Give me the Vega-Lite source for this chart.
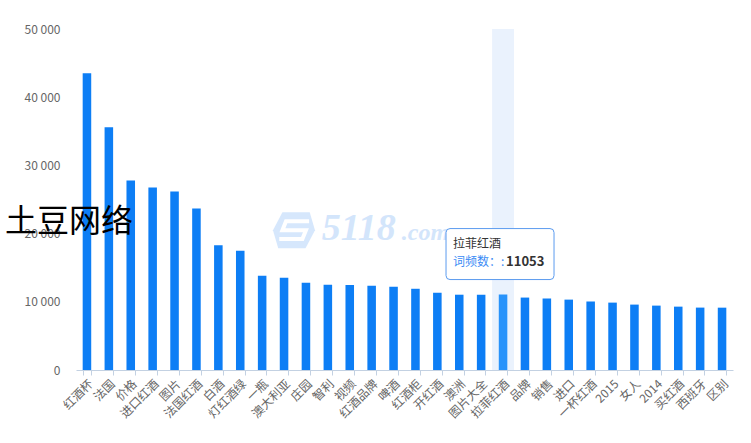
{
  "$schema": "https://vega.github.io/schema/vega-lite/v6.json",
  "width": 657,
  "height": 341,
  "autosize": "none",
  "padding": {"left": 76, "top": 29, "right": 18, "bottom": 73},
  "config": {"view": {"stroke": null}, "font": "Noto Sans CJK SC"},
  "data": {
    "values": [
      {"word": "红酒杯", "count": 43530},
      {"word": "法国", "count": 35590},
      {"word": "价格", "count": 27790},
      {"word": "进口红酒", "count": 26760},
      {"word": "图片", "count": 26180},
      {"word": "法国红酒", "count": 23680},
      {"word": "白酒", "count": 18280},
      {"word": "灯红酒绿", "count": 17500},
      {"word": "一瓶", "count": 13820},
      {"word": "澳大利亚", "count": 13530},
      {"word": "庄园", "count": 12790},
      {"word": "智利", "count": 12500},
      {"word": "视频", "count": 12480},
      {"word": "红酒品牌", "count": 12350},
      {"word": "啤酒", "count": 12200},
      {"word": "红酒柜", "count": 11910},
      {"word": "开红酒", "count": 11320},
      {"word": "澳洲", "count": 11040},
      {"word": "图片大全", "count": 11030},
      {"word": "拉菲红酒", "count": 11053},
      {"word": "品牌", "count": 10620},
      {"word": "销售", "count": 10470},
      {"word": "进口", "count": 10320},
      {"word": "一杯红酒", "count": 10030},
      {"word": "2015", "count": 9880},
      {"word": "女人", "count": 9590},
      {"word": "2014", "count": 9440},
      {"word": "买红酒", "count": 9290},
      {"word": "西班牙", "count": 9150},
      {"word": "区别", "count": 9140}
    ]
  },
  "layer": [
    {
      "mark": {"type": "bar"},
      "encoding": {
        "x": {"field": "word", "type": "nominal", "sort": null, "scale": {"paddingInner": 0, "paddingOuter": 0}, "axis": null},
        "y": {"datum": 50000, "type": "quantitative"},
        "y2": {"datum": 0},
        "color": {"condition": {"test": "datum.word === '拉菲红酒'", "value": "rgba(140,185,245,0.18)"}, "value": "rgba(0,0,0,0)"}
      }
    },
    {
      "layer": [
        {
          "mark": {"type": "bar"},
          "encoding": {
            "x": {
              "field": "word", "type": "nominal", "sort": null,
              "scale": {"paddingInner": 0.61, "paddingOuter": 0.305},
              "axis": {
                "title": null, "labelAngle": -45, "labelFontSize": 12, "labelColor": "#666666",
                "labelPadding": 3, "domainColor": "#c3d1e2", "tickColor": "#c3d1e2", "tickSize": 5,
                "tickBand": "extent", "labelOverlap": false, "grid": false, "labelFont": "Noto Sans CJK SC"
              }
            },
            "y": {
              "field": "count", "type": "quantitative",
              "scale": {"domain": [0, 50000], "nice": false},
              "axis": {
                "title": null, "values": [0, 10000, 20000, 30000, 40000, 50000],
                "labelExpr": "replace(format(datum.value, ','), ',', ' ')",
                "domain": false, "ticks": false, "gridColor": "#e0e0e0", "labelColor": "#666666",
                "labelFontSize": 12, "labelPadding": 16, "labelFont": "Noto Sans CJK SC"
              }
            },
            "color": {"condition": {"test": "datum.word === '拉菲红酒'", "value": "#2893fb"}, "value": "#0d7ef5"}
          }
        },
        {
          "data": {"values": [{"t": "logo"}]},
          "mark": {"type": "point", "filled": true, "shape": "M-1.12,-0.857 L0.18,-0.857 L0.43,0 L-0.02,0.857 L-1.32,0.857 L-1.57,0 Z", "size": 1764, "color": "#d6e7fc", "opacity": 1},
          "encoding": {"x": {"datum": "庄园"}, "y": {"datum": 20500}}
        },
        {
          "data": {"values": [{"t": "logo-s"}]},
          "mark": {"type": "point", "filled": false, "shape": "M0.15,-0.42 L-0.95,-0.42 L-1.12,0 L0,0 L-0.17,0.42 L-1.27,0.42", "size": 1764, "stroke": "#ffffff", "strokeWidth": 4, "fillOpacity": 0, "opacity": 1},
          "encoding": {"x": {"datum": "庄园"}, "y": {"datum": 20500}}
        },
        {
          "data": {"values": [{"t": "5118"}]},
          "mark": {"type": "text", "align": "left", "baseline": "alphabetic", "dx": -6, "dy": 6, "fontSize": 38, "fontStyle": "italic", "fontWeight": "bold", "font": "Liberation Serif", "color": "#d3e5fb"},
          "encoding": {"x": {"datum": "智利"}, "y": {"datum": 20000}, "text": {"field": "t"}}
        },
        {
          "data": {"values": [{"t": ".com"}]},
          "mark": {"type": "text", "align": "left", "baseline": "alphabetic", "dx": 74, "dy": 6, "fontSize": 24, "fontStyle": "italic", "fontWeight": "bold", "font": "Liberation Serif", "color": "#d3e5fb"},
          "encoding": {"x": {"datum": "智利"}, "y": {"datum": 20000}, "text": {"field": "t"}}
        },
        {
          "data": {"values": [{"t": "土豆网络"}]},
          "mark": {"type": "text", "align": "center", "baseline": "middle", "dx": -18, "dy": -12, "fontSize": 32, "color": "#000000", "font": "Noto Sans CJK SC"},
          "encoding": {"x": {"datum": "红酒杯"}, "y": {"datum": 20000}, "text": {"field": "t"}}
        },
        {
          "data": {"values": [{"t": "box"}]},
          "mark": {"type": "point", "filled": false, "shape": "M-0.982,-0.472 L0.87,-0.472 Q0.944,-0.472 0.944,-0.398 L0.944,0.398 Q0.944,0.472 0.87,0.472 L-0.982,0.472 Q-1.056,0.472 -1.056,0.398 L-1.056,-0.398 Q-1.056,-0.472 -0.982,-0.472 Z", "size": 11664, "fill": "#ffffff", "fillOpacity": 1, "stroke": "#5b9bef", "strokeWidth": 1, "opacity": 1},
          "encoding": {"x": {"datum": "拉菲红酒"}, "y": {"datum": 17000}}
        },
        {
          "data": {"values": [{"t": "拉菲红酒"}]},
          "mark": {"type": "text", "align": "left", "baseline": "middle", "dx": -50, "dy": -10, "fontSize": 12, "color": "#333333"},
          "encoding": {"x": {"datum": "拉菲红酒"}, "y": {"datum": 17000}, "text": {"field": "t"}}
        },
        {
          "data": {"values": [{"t": "词频数：:"}]},
          "mark": {"type": "text", "align": "left", "baseline": "middle", "dx": -50, "dy": 8, "fontSize": 12, "color": "#3b8cf5"},
          "encoding": {"x": {"datum": "拉菲红酒"}, "y": {"datum": 17000}, "text": {"field": "t"}}
        },
        {
          "data": {"values": [{"t": "11053"}]},
          "mark": {"type": "text", "align": "left", "baseline": "middle", "dx": 3, "dy": 8, "fontSize": 13, "fontWeight": "bold", "color": "#333333"},
          "encoding": {"x": {"datum": "拉菲红酒"}, "y": {"datum": 17000}, "text": {"field": "t"}}
        }
      ]
    }
  ],
  "resolve": {"scale": {"x": "independent"}}
}
